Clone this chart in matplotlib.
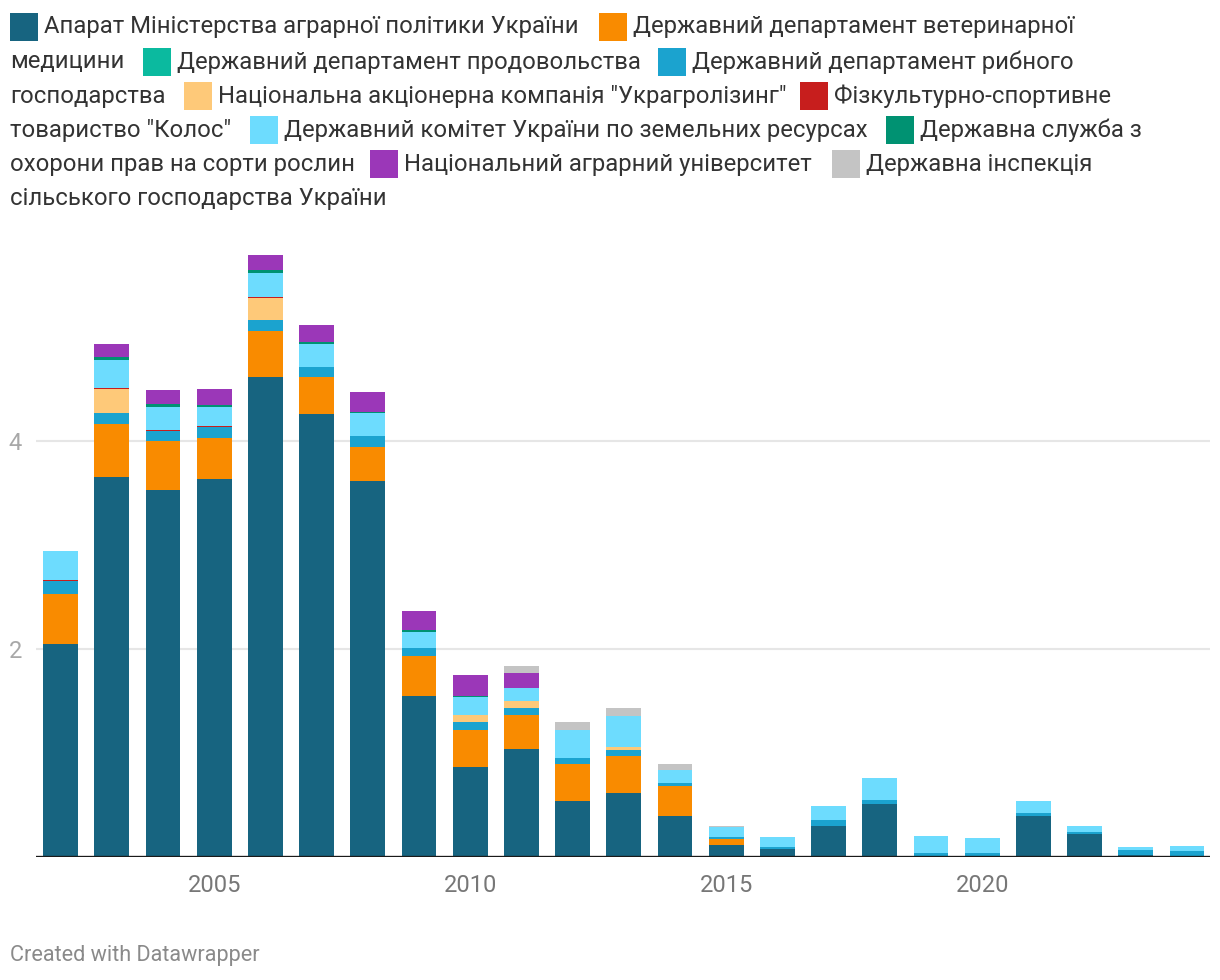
import matplotlib
matplotlib.use('Agg')
import matplotlib.pyplot as plt
from matplotlib.patches import Rectangle

plt.rcParams['font.family'] = ['Roboto', 'DejaVu Sans']

W, H = 1220, 980

years = list(range(2002, 2025))

# stacked series, bottom to top
aparat = [2.05, 3.65, 3.53, 3.63, 4.62, 4.26, 3.62, 1.55, 0.87, 1.035, 0.535, 0.62,
          0.39, 0.116, 0.077, 0.30, 0.505, 0.0, 0.0, 0.39, 0.225, 0.02, 0.01]
veterin = [0.48, 0.51, 0.47, 0.40, 0.44, 0.36, 0.325, 0.38, 0.355, 0.327, 0.36, 0.35,
           0.29, 0.058, 0, 0, 0, 0, 0, 0, 0, 0, 0]
prodov = [0] * 23
rybne = [0.12, 0.11, 0.10, 0.10, 0.10, 0.095, 0.10, 0.084, 0.069, 0.067, 0.055, 0.055,
         0.029, 0.019, 0.019, 0.058, 0.04, 0.039, 0.039, 0.029, 0.02, 0.049, 0.049]
lizing = [0, 0.23, 0, 0, 0.214, 0, 0, 0, 0.076, 0.067, 0, 0.029,
          0, 0, 0, 0, 0, 0, 0, 0, 0, 0, 0]
kolos = [0.01, 0.01, 0.01, 0.01, 0.01, 0, 0, 0, 0, 0, 0, 0,
         0, 0, 0, 0, 0, 0, 0, 0, 0, 0, 0]
zemres = [0.28, 0.27, 0.214, 0.19, 0.23, 0.214, 0.221, 0.153, 0.164, 0.125, 0.272, 0.30,
          0.125, 0.097, 0.097, 0.135, 0.213, 0.166, 0.147, 0.117, 0.049, 0.029, 0.049]
sorty = [0, 0.03, 0.027, 0.015, 0.03, 0.02, 0.015, 0.019, 0.015, 0, 0, 0,
         0, 0, 0, 0, 0, 0, 0, 0, 0, 0, 0]
univer = [0, 0.126, 0.137, 0.157, 0.145, 0.164, 0.187, 0.175, 0.198, 0.144, 0, 0,
          0, 0, 0, 0, 0, 0, 0, 0, 0, 0, 0]
inspek = [0, 0, 0, 0, 0, 0, 0, 0, 0, 0.067, 0.074, 0.083,
          0.058, 0.01, 0, 0, 0, 0, 0, 0, 0, 0, 0]

series = [aparat, veterin, prodov, rybne, lizing, kolos, zemres, sorty, univer, inspek]
colors = ['#176480', '#f98b00', '#0bba9f', '#1ba3cf', '#fec979',
          '#c71e1d', '#6ddcfe', '#009272', '#9b37b8', '#c4c4c4']

fig = plt.figure(figsize=(W / 100, H / 100), dpi=100)

def fx(x):
    return x / W

def fy(y):
    return 1 - y / H

ax_left, ax_right, ax_bottom = 36, 1210, 857
ymax = 5.85
ax_top = ax_bottom - ymax * 104
ax = fig.add_axes([fx(ax_left), fy(ax_bottom), fx(ax_right - ax_left), (ax_bottom - ax_top) / H])

bottom = [0.0] * len(years)
for vals, c in zip(series, colors):
    ax.bar(years, vals, bottom=bottom, width=0.68, color=c, linewidth=0, zorder=3)
    bottom = [b + v for b, v in zip(bottom, vals)]

ax.set_xlim(2001.52, 2024.45)
ax.set_ylim(0, ymax)
for s in ax.spines.values():
    s.set_visible(False)
ax.axhline(0, color='#1a1a1a', lw=2.4, zorder=4)
ax.set_yticks([2, 4])
ax.set_yticklabels(['2', '4'])
ax.grid(axis='y', color='#e6e6e6', lw=1.5, zorder=0)
ax.set_xticks([2005, 2010, 2015, 2020])
ax.tick_params(axis='y', length=0, pad=10, labelsize=17, labelcolor='#a8a8a8')
ax.tick_params(axis='x', length=0, pad=12, labelsize=17, labelcolor='#777777')

# legend, laid out like the inline flow of the original (square x, series, label)
txt = dict(fontsize=17.2, color='#333333', va='center', ha='left')
legend_rows = [
    (27, [(10, 0, 'Апарат Міністерства аграрної політики України'),
          (599, 1, 'Державний департамент ветеринарної')]),
    (62, [(10, None, 'медицини'),
          (143, 2, 'Державний департамент продовольства'),
          (658, 3, 'Державний департамент рибного')]),
    (96, [(10, None, 'господарства'),
          (184, 4, 'Національна акціонерна компанія "Украгролізинг"'),
          (800, 5, 'Фізкультурно-спортивне')]),
    (130, [(10, None, 'товариство "Колос"'),
           (250, 6, 'Державний комітет України по земельних ресурсах'),
           (886, 7, 'Державна служба з')]),
    (164, [(10, None, 'охорони прав на сорти рослин'),
           (370, 8, 'Національний аграрний університет'),
           (832, 9, 'Державна інспекція')]),
    (199, [(10, None, 'сільського господарства України')]),
]
for yc, items in legend_rows:
    for x, idx, label in items:
        if idx is None:
            fig.text(fx(x), fy(yc), label, **txt)
        else:
            fig.patches.append(Rectangle((fx(x), fy(yc + 14)), fx(28), 28 / H,
                                         transform=fig.transFigure, color=colors[idx],
                                         linewidth=0))
            fig.text(fx(x + 34), fy(yc), label, **txt)

fig.text(fx(10), fy(955), 'Created with Datawrapper', fontsize=15.6, color='#8a8a8a',
         va='center', ha='left')

fig.savefig('out.png', dpi=100, facecolor='white')
